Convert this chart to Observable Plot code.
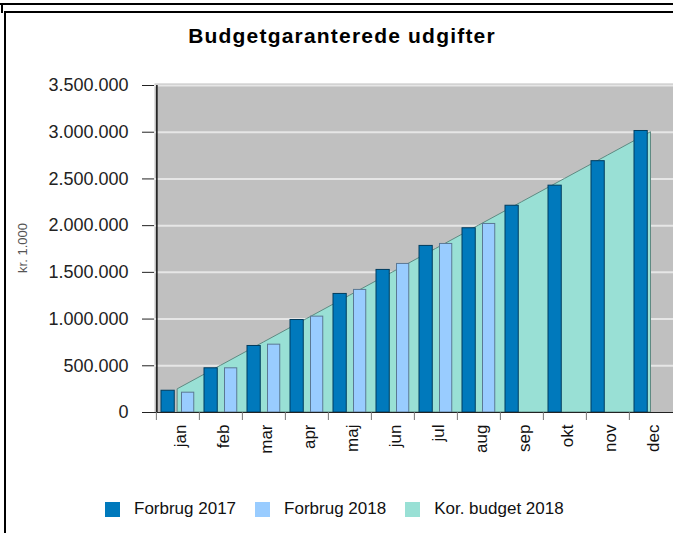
<!DOCTYPE html>
<html>
<head>
<meta charset="utf-8">
<script src="https://cdn.jsdelivr.net/npm/d3@7"></script>
<script src="https://cdn.jsdelivr.net/npm/@observablehq/plot@0.6"></script>
<style>
  html, body { margin: 0; padding: 0; background: #fff; overflow: hidden; }
  body { width: 673px; height: 533px; position: relative; font-family: "Liberation Sans", Arial, sans-serif; }
  .line { position: absolute; background: #000; }
  #title { position: absolute; top: 24px; left: 0; width: 684px; text-align: center; font-weight: bold; font-size: 21px; letter-spacing: 1.2px; color: #000; }
  #ylabel { position: absolute; left: 22px; top: 248px; transform: translate(-50%, -50%) rotate(-90deg); font-size: 13px; color: #555; white-space: nowrap; }
  #chart { position: absolute; top: 70px; left: 0; }
  #legend { position: absolute; top: 499px; left: 105px; display: flex; align-items: center; font-size: 17px; color: #111; }
  .item { display: flex; align-items: center; margin-right: 19px; }
  .sw { width: 15px; height: 15px; margin-right: 14px; }
</style>
</head>
<body>
<div class="line" style="left:0;top:3px;width:673px;height:2px"></div>
<div class="line" style="left:4px;top:11px;width:669px;height:2px"></div>
<div class="line" style="left:4px;top:11px;width:2px;height:522px"></div>
<div class="line" style="left:1px;top:3px;width:2px;height:10px"></div>
<div id="title">Budgetgaranterede udgifter</div>
<div id="ylabel">kr. 1.000</div>
<div id="chart"></div>
<div id="legend"></div>
<script>
const months = ["jan","feb","mar","apr","maj","jun","jul","aug","sep","okt","nov","dec"];
const forbrug2017 = [233000, 473000, 712000, 990000, 1269000, 1526000, 1783000, 1972000, 2213000, 2428000, 2690000, 3013000];
const forbrug2018 = [212000, 473000, 726000, 1026000, 1312000, 1590000, 1804000, 2018000, null, null, null, null];
const budget2018 = [250000, 500000, 750000, 1000000, 1250000, 1500000, 1750000, 2000000, 2250000, 2500000, 2750000, 3000000];
const yTicks = [0, 500000, 1000000, 1500000, 2000000, 2500000, 3000000, 3500000];
const seriesNames = ["Forbrug 2017", "Forbrug 2018", "Kor. budget 2018"];
const seriesColors = ["#0079bc", "#99ccff", "#99e0d5"];

const table = months.map((m, i) => ({month: m, v17: forbrug2017[i], v18: forbrug2018[i], b: budget2018[i]}));
const fmt = d3.formatLocale({decimal: ",", thousands: ".", grouping: [3], currency: ["", ""]}).format(",d");

const W = 673, ML = 154, MR = 0;
const bw = (W - ML - MR) / months.length;

const chart = Plot.plot({
  width: W,
  height: 402,
  marginLeft: ML,
  marginRight: MR,
  marginTop: 15,
  marginBottom: 60,
  style: {fontFamily: "'Liberation Sans', Arial, sans-serif", fontSize: "17px", color: "#222", background: "transparent"},
  x: {domain: months, padding: 0},
  y: {domain: [0, 3500000]},
  marks: [
    Plot.frame({fill: "#c0c0c0", insetTop: -2}),
    Plot.ruleY(yTicks.filter(t => t > 0), {stroke: "#e6e6e6", strokeWidth: 2}),
    Plot.areaY(table, {x: "month", y: "b", fill: seriesColors[2], stroke: "#5e8a82", strokeWidth: 1, curve: "linear"}),
    Plot.barY(table.filter(d => d.v17 != null), {x: "month", y: "v17", fill: seriesColors[0], stroke: "#003c5e", strokeWidth: 1, insetLeft: 5, insetRight: bw - 18.5}),
    Plot.barY(table.filter(d => d.v18 != null), {x: "month", y: "v18", fill: seriesColors[1], stroke: "#5b7894", strokeWidth: 1, insetLeft: 25.5, insetRight: bw - 38}),
    Plot.ruleY([0], {stroke: "#222"}),
    Plot.ruleX([months[0]], {dx: -bw / 2 + 0.5, stroke: "#111", strokeWidth: 1.5}),
    Plot.axisY({ticks: yTicks, tickFormat: fmt, tickSize: 12, tickPadding: 14, label: null, stroke: "#222", strokeOpacity: 1, fill: "#222", fontSize: 18}),
    Plot.axisX({tickSize: 8, tickFormat: () => "", dx: -bw / 2, stroke: "#777", label: null}),
    Plot.axisX({tickSize: 0, tickPadding: 12, tickRotate: -90, dx: 3, label: null, fontSize: 17, fill: "#111"})
  ]
});
document.getElementById("chart").appendChild(chart);

const legend = document.getElementById("legend");
seriesNames.forEach((name, i) => {
  const item = document.createElement("div");
  item.className = "item";
  const sw = document.createElement("div");
  sw.className = "sw";
  sw.style.background = seriesColors[i];
  const t = document.createElement("span");
  t.textContent = name;
  item.appendChild(sw);
  item.appendChild(t);
  legend.appendChild(item);
});
</script>
</body>
</html>
